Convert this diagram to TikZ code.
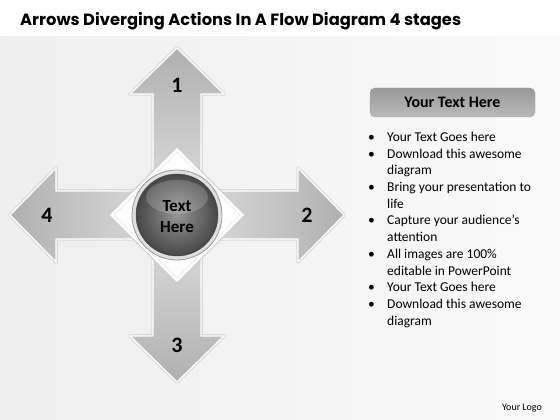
\documentclass[tikz,border=0pt]{standalone}
\usepackage{fontspec}
\setmainfont{Carlito}
\newfontfamily\titlefont{Poppins}
\usepackage{tikz}
\usetikzlibrary{calc, positioning}

\begin{document}
\begin{tikzpicture}[x=1pt, y=1pt,
        numlabel/.style={font=\fontsize{22}{22}\selectfont\bfseries},
        hubtext/.style={align=center, font=\fontsize{17}{21}\selectfont\bfseries},
        headbox/.style={rounded corners=5pt, minimum width=165pt, minimum height=29pt,
            top color=gray!80, middle color=gray!25, bottom color=gray!55, draw=gray!70,
            font=\fontsize{16}{16}\selectfont\bfseries}
    ]
            \useasboundingbox (0,0) rectangle (560,420);
            \fill[white] (0,0) rectangle (560,420);
            \shade[left color=gray!13, right color=gray!4] (0,0) rectangle (560,383);

            \node[anchor=base west, inner sep=0pt, font=\titlefont\fontsize{16.3}{16.3}\selectfont\bfseries] (title) at (20,394)
                {Arrows Diverging Actions In A Flow Diagram 4 stages};

            \coordinate (C) at (177,205);

            \foreach \a/\n in {90/1, 0/2, 270/3, 180/4} {
                \pgfmathtruncatemacro{\sa}{\a-90}
                \draw[gray!30, line width=3.5pt, line join=round, shift={(C)}, rotate=\a]
                    (0,24) -- (121,24) -- (121,47) -- (167,0) -- (121,-47) -- (121,-24) -- (0,-24) -- cycle;
                \shade[top color=gray!62, bottom color=gray!24, shading angle=\sa, draw=white,
                    line width=1.3pt, line join=round, shift={(C)}, rotate=\a]
                    (0,24) -- (121,24) -- (121,47) -- (167,0) -- (121,-47) -- (121,-24) -- (0,-24) -- cycle;
            }

            \filldraw[fill=white, draw=gray!40, line width=1pt]
                ([yshift=68]C) -- ([xshift=68]C) -- ([yshift=-68]C) -- ([xshift=-68]C) -- cycle;
            \draw[gray!20, line width=0.6pt]
                ([yshift=63]C) -- ([xshift=63]C) -- ([yshift=-63]C) -- ([xshift=-63]C) -- cycle;

            \foreach \a/\n in {90/1, 0/2, 270/3, 180/4} {
                \node[numlabel] (num\n) at ([shift={(\a:130)}]C) {\n};
            }

            \filldraw[fill=gray!25, draw=gray!80, line width=0.8pt] (C) circle (45);
            \node[circle, minimum size=82pt, inner color=black!42, outer color=black!72, draw=black!75] (hub) at (C) {};
            \fill[white, opacity=0.18] ([yshift=18]C) ellipse (31 and 17);
            \node[hubtext] (hubtitle) at ([yshift=-2]C) {Text\\Here};

            \node[headbox] (head) at (452.5,317.5) {Your Text Here};

            \node[anchor=base west, inner sep=0pt, font=\fontsize{13.5}{16.7}\selectfont] (list) at (368,278.5) {%
                \begin{tabular}[t]{@{}p{19pt}@{}l@{}}
                    \textbullet & Your Text Goes here\\
                    \textbullet & Download this awesome\\
                                & diagram\\
                    \textbullet & Bring your presentation to\\
                                & life\\
                    \textbullet & Capture your audience’s\\
                                & attention\\
                    \textbullet & All images are 100\%\\
                                & editable in PowerPoint\\
                    \textbullet & Your Text Goes here\\
                    \textbullet & Download this awesome\\
                                & diagram
                \end{tabular}};

            \node[font=\fontsize{10}{10}\selectfont] (logo) at (522,12) {Your Logo};
        \end{tikzpicture}
\end{document}
